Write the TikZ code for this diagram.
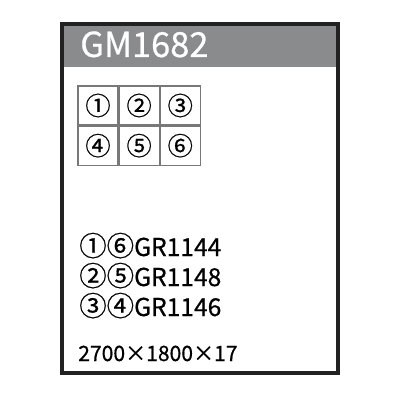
\documentclass[tikz,border=0pt]{standalone}
\usepackage{fontspec}
\setmainfont[FakeBold=0.6]{Noto Sans CJK JP}
\newfontfamily\heavyfont[FakeBold=0.6]{Noto Sans CJK JP}
\usepackage{xcolor}
\usetikzlibrary{positioning}
\definecolor{frameblack}{RGB}{34,34,34}
\definecolor{headgray}{RGB}{138,139,141}
\definecolor{gridgray}{RGB}{120,120,120}
\newcommand\cnum[1]{{\fontsize{19.5}{19.5}\selectfont #1}}

\begin{document}
\begin{tikzpicture}[
    x=0.025cm, y=-0.025cm,
    cell/.style={rectangle, draw=gridgray, line width=0.8pt, minimum width=1cm, minimum height=0.975cm, inner sep=0pt, font=\fontsize{18}{18}\selectfont},
    code/.style={anchor=base west, inner sep=0pt, font=\heavyfont\fontsize{17.5}{17.5}\selectfont},
    size/.style={anchor=base west, inner sep=0pt, font=\heavyfont\fontsize{15}{15}\selectfont}
]
    \useasboundingbox (0,0) rectangle (400,400);
    % header band and frame
    \fill[headgray] (64,26) rectangle (336,67);
    \draw[frameblack, line width=2.8pt] (62,24) rectangle (338,373);
    \node[anchor=base west, inner sep=0pt, text=white, font=\heavyfont\fontsize{24.5}{24.5}\selectfont] (title) at (80,57) {GM1682};

    % 2x3 grid of positions
    \node[cell] (c1) at (98,105.5) {①};
    \node[cell, right=0pt of c1] (c2) {②};
    \node[cell, right=0pt of c2] (c3) {③};
    \node[cell, below=0pt of c1] (c4) {④};
    \node[cell, right=0pt of c4] (c5) {⑤};
    \node[cell, right=0pt of c5] (c6) {⑥};

    % codes
    \node[code] (r1) at (79,256) {\cnum{①⑥}GR1144};
    \node[code] (r2) at (79,286) {\cnum{②⑤}GR1148};
    \node[code] (r3) at (79,316) {\cnum{③④}GR1146};
    \node[size] (dims) at (78,361) {2700×1800×17};
\end{tikzpicture}
\end{document}
